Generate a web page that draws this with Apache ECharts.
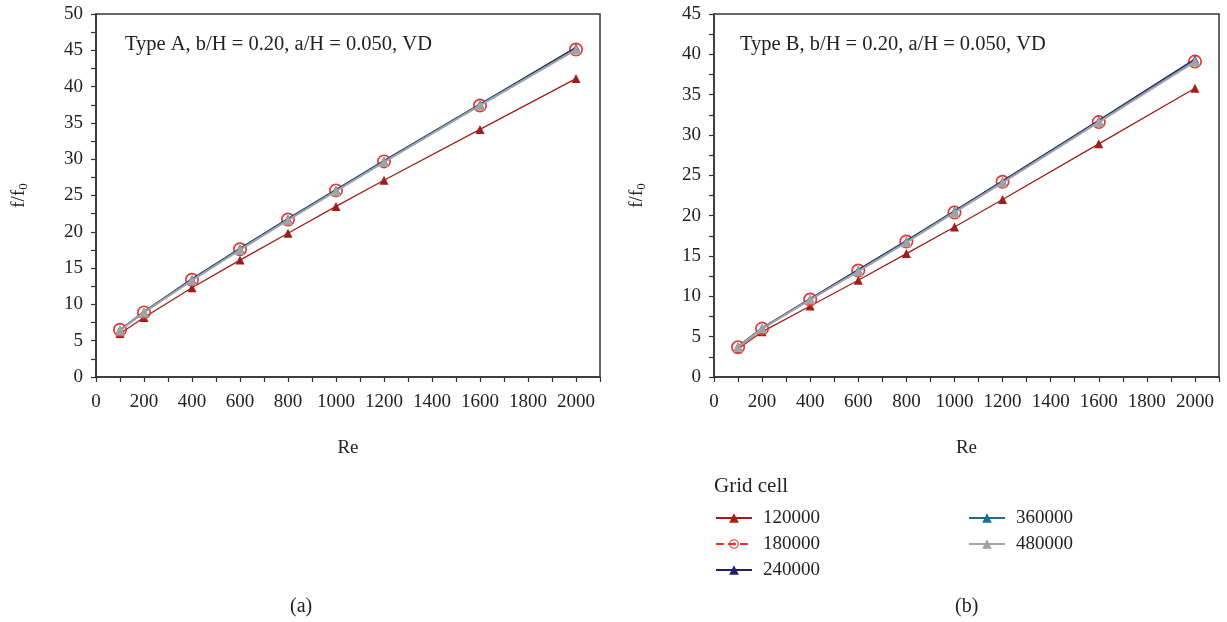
<!DOCTYPE html>
<html>
<head>
<meta charset="utf-8">
<script src="https://cdn.jsdelivr.net/npm/echarts@6/dist/echarts.min.js"></script>
<style>
  html, body { margin: 0; padding: 0; background: #fff; }
  #chart { width: 1227px; height: 622px; }
</style>
</head>
<body>
<div id="chart"></div>
<script>
// Reynolds numbers (x values), same for both panels
const re = [100, 200, 400, 600, 800, 1000, 1200, 1600, 2000];

const gridCells = ['120000', '180000', '240000', '360000', '480000'];

// panel (a): Type A
const typeA_120000 = [6.0, 8.2, 12.3, 16.1, 19.8, 23.5, 27.1, 34.1, 41.1];
const typeA_180000 = [6.5, 8.9, 13.4, 17.6, 21.7, 25.7, 29.7, 37.4, 45.1];
const typeA_240000 = [6.5, 9.0, 13.5, 17.7, 21.8, 25.8, 29.8, 37.6, 45.4];
const typeA_360000 = [6.5, 8.9, 13.4, 17.6, 21.7, 25.7, 29.7, 37.5, 45.2];
const typeA_480000 = [6.4, 8.9, 13.3, 17.5, 21.6, 25.6, 29.6, 37.4, 45.1];

// panel (b): Type B
const typeB_120000 = [3.5, 5.6, 8.8, 12.0, 15.3, 18.6, 22.0, 28.9, 35.8];
const typeB_180000 = [3.7, 6.0, 9.6, 13.2, 16.8, 20.4, 24.2, 31.6, 39.1];
const typeB_240000 = [3.8, 6.1, 9.7, 13.3, 16.9, 20.6, 24.3, 31.8, 39.4];
const typeB_360000 = [3.7, 6.0, 9.6, 13.2, 16.8, 20.5, 24.2, 31.7, 39.2];
const typeB_480000 = [3.7, 6.0, 9.6, 13.1, 16.7, 20.4, 24.1, 31.6, 39.1];

const serif = '"Liberation Serif", "DejaVu Serif", serif';
const axisColor = '#333';
const textColor = '#222';

// ring with a dot in the middle
const ringDot = 'path://M0,-10A10,10 0 1,1 0,10A10,10 0 1,1 0,-10Z' +
  'M0,-7.6A7.6,7.6 0 1,0 0,7.6A7.6,7.6 0 1,0 0,-7.6Z' +
  'M0,-3A3,3 0 1,1 0,3A3,3 0 1,1 0,-3Z';

const styles = {
  '120000': { color: '#a01e1a', symbol: 'triangle', size: 9, width: 1.3, type: 'solid' },
  '180000': { color: '#e8352e', symbol: ringDot, size: 14, width: 1.3, type: 'dashed' },
  '240000': { color: '#1f1f6b', symbol: 'triangle', size: 8, width: 1.5, type: 'solid' },
  '360000': { color: '#1b6f8c', symbol: 'triangle', size: 8, width: 1.5, type: 'solid' },
  '480000': { color: '#a3a3a3', symbol: 'triangle', size: 10, width: 2, type: 'solid' }
};

const panels = [
  [typeA_120000, typeA_180000, typeA_240000, typeA_360000, typeA_480000],
  [typeB_120000, typeB_180000, typeB_240000, typeB_360000, typeB_480000]
];

const series = [];
panels.forEach((vals, p) => {
  vals.forEach((v, k) => {
    const name = gridCells[k];
    const s = styles[name];
    series.push({
      name: name,
      type: 'line',
      xAxisIndex: p,
      yAxisIndex: p,
      data: re.map((x, i) => [x, v[i]]),
      symbol: s.symbol,
      symbolSize: s.size,
      showAllSymbol: true,
      color: s.color,
      lineStyle: { color: s.color, width: s.width, type: s.type },
      itemStyle: { color: s.color },
      emphasis: { disabled: true },
      animation: false,
      z: 2 + k
    });
  });
});

function xAxis(gridIndex) {
  return {
    type: 'value',
    gridIndex: gridIndex,
    min: 0, max: 2100, interval: 200,
    name: 'Re',
    nameLocation: 'middle',
    nameGap: 62,
    nameTextStyle: { fontFamily: serif, fontSize: 19, color: textColor },
    axisLine: { show: true, lineStyle: { color: axisColor, width: 1.5 } },
    axisTick: { show: true, length: 5, lineStyle: { color: axisColor, width: 1.2 } },
    minorTick: { show: true, splitNumber: 2, length: 5, lineStyle: { color: axisColor, width: 1.2 } },
    splitLine: { show: false },
    axisLabel: {
      fontFamily: serif, fontSize: 19, color: textColor, margin: 16,
      showMaxLabel: false,
      formatter: v => (v % 200 === 0 ? String(v) : '')
    }
  };
}

function yAxis(gridIndex, max) {
  return {
    type: 'value',
    gridIndex: gridIndex,
    min: 0, max: max, interval: 5,
    name: 'f/f{sub|0}',
    nameLocation: 'middle',
    nameGap: 66,
    nameRotate: 90,
    nameTextStyle: {
      fontFamily: serif, fontSize: 19, color: textColor,
      rich: { sub: { fontFamily: serif, fontSize: 13, color: textColor, verticalAlign: 'bottom', padding: [8, 0, 0, 0] } }
    },
    axisLine: { show: true, lineStyle: { color: axisColor, width: 1.5 } },
    axisTick: { show: true, length: 5, lineStyle: { color: axisColor, width: 1.2 } },
    minorTick: { show: true, splitNumber: 2, length: 5, lineStyle: { color: axisColor, width: 1.2 } },
    splitLine: { show: false },
    axisLabel: { fontFamily: serif, fontSize: 19, color: textColor, margin: 13 }
  };
}

const legendBase = {
  orient: 'vertical',
  itemWidth: 36,
  itemHeight: 12,
  itemGap: 6,
  textStyle: { fontFamily: serif, fontSize: 19, lineHeight: 20, color: textColor, padding: [0, 0, 0, 6] },
  selectedMode: false
};

const option = {
  backgroundColor: '#fff',
  animation: false,
  grid: [
    { left: 96, top: 14, width: 504, height: 363, show: true, borderColor: axisColor, borderWidth: 1.5, backgroundColor: 'transparent' },
    { left: 714, top: 14, width: 505, height: 363, show: true, borderColor: axisColor, borderWidth: 1.5, backgroundColor: 'transparent' }
  ],
  xAxis: [xAxis(0), xAxis(1)],
  yAxis: [yAxis(0, 50), yAxis(1, 45)],
  legend: [
    Object.assign({}, legendBase, { left: 710, top: 503, data: gridCells.slice(0, 3) }),
    Object.assign({}, legendBase, { left: 963, top: 503, data: gridCells.slice(3) })
  ],
  graphic: [
    { type: 'text', left: 125, top: 34, style: { text: 'Type A, b/H = 0.20, a/H = 0.050, VD', font: '20.5px ' + serif, fill: textColor } },
    { type: 'text', left: 740, top: 34, style: { text: 'Type B, b/H = 0.20, a/H = 0.050, VD', font: '20.5px ' + serif, fill: textColor } },
    { type: 'text', left: 714, top: 476, style: { text: 'Grid cell', font: '21px ' + serif, fill: textColor } },
    { type: 'text', left: 290, top: 597, style: { text: '(a)', font: '20px ' + serif, fill: textColor } },
    { type: 'text', left: 955, top: 597, style: { text: '(b)', font: '20px ' + serif, fill: textColor } }
  ],
  series: series
};

const chart = echarts.init(document.getElementById('chart'));
chart.setOption(option);
</script>
</body>
</html>
